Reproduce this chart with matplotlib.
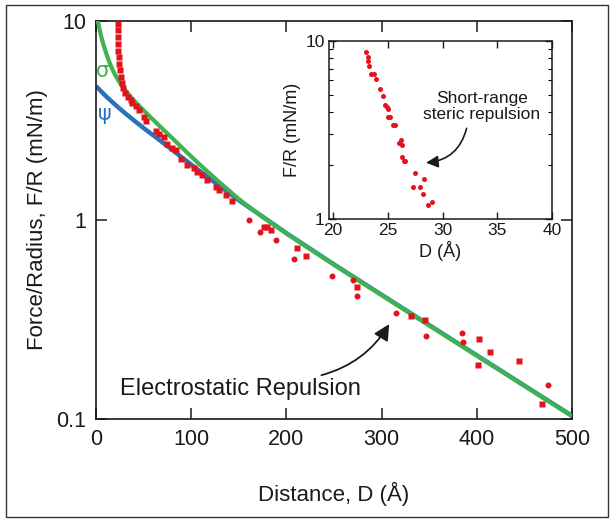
import matplotlib
matplotlib.use("Agg")
import matplotlib.pyplot as plt
from matplotlib.patches import Rectangle
from matplotlib.ticker import FixedLocator, FixedFormatter, NullLocator, NullFormatter, LogLocator

plt.rcParams['font.family'] = ['Liberation Sans', 'DejaVu Sans']

# ---------------- data ----------------
# constant-charge (sigma) model curve
sigma_d = [1.0, 2, 3.5, 5.3, 8, 10.5, 13, 15.7, 19, 22.8, 27, 31.5, 36, 42, 52.5, 66, 80,
           95, 110, 130, 150, 175, 200, 250, 300, 350, 400, 450, 500]
sigma_f = [10.52, 9.954, 9.204, 8.414, 7.551, 6.934, 6.397, 5.943, 5.483, 5.093, 4.742,
           4.446, 4.178, 3.882, 3.459, 2.992, 2.582, 2.198, 1.879, 1.542, 1.274, 1.035,
           0.855, 0.596, 0.419, 0.295, 0.208, 0.1466, 0.1033]
# constant-potential (psi) model curve
psi_d = [0, 10, 20, 30, 40, 50, 63, 78, 92, 110, 130, 150, 175, 200, 250, 300, 350, 400,
         450, 500]
psi_f = [4.710, 4.207, 3.802, 3.459, 3.162, 2.897, 2.600, 2.291, 2.032, 1.746, 1.479,
         1.256, 1.040, 0.859, 0.598, 0.421, 0.2965, 0.2089, 0.1472, 0.1038]

# measured data, squares
sq_d = [22.8, 22.9, 23.1, 23.2, 23.5, 23.8, 24.1, 24.9, 25.9, 27.0, 28.3, 30.4, 34.0,
        36.4, 38.2, 41.7, 45.1, 50.4, 52.9, 62.6, 66.1, 71.4, 74.9, 80.2, 83.6, 88.9,
        95.9, 102.8, 106.4, 111.6, 116.9, 125.6, 129.1, 136.1, 143.1, 176.3, 180.0,
        183.3, 211.3, 221.1, 274.3, 331.3, 345.3, 402.0, 413.5, 401.3, 444.6, 468.7]
sq_f = [9.7, 9.0, 8.3, 7.7, 7.1, 6.6, 6.1, 5.67, 5.25, 4.86, 4.59, 4.33, 4.17,
        4.01, 3.86, 3.75, 3.57, 3.30, 3.14, 2.80, 2.72, 2.62, 2.42, 2.29, 2.25, 2.02,
        1.88, 1.82, 1.75, 1.68, 1.59, 1.46, 1.42, 1.34, 1.24, 0.92, 0.92,
        0.89, 0.72, 0.66, 0.459, 0.33, 0.315, 0.252, 0.217, 0.187, 0.196, 0.119]
# measured data, circles
ci_d = [160.5, 172.1, 188.6, 207.8, 248.0, 269.7, 274.3, 315.2, 347.0, 384.5, 385.5, 474.7]
ci_f = [1.00, 0.87, 0.79, 0.64, 0.525, 0.50, 0.415, 0.34, 0.261, 0.27, 0.243, 0.148]

# inset: short-range data
in_d = [23.0, 23.17, 23.23, 23.29, 23.47, 23.7, 23.9, 24.3, 24.6, 24.78, 24.9, 25.05,
        25.0, 25.2, 25.5, 25.7, 26.0, 26.2, 26.3, 26.3, 26.5, 26.6, 27.46, 28.3, 27.3,
        27.9, 28.2, 28.7, 29.0]
in_f = [8.64, 8.17, 7.75, 7.24, 6.53, 6.53, 6.12, 5.35, 4.89, 4.35, 4.24, 4.13,
        3.76, 3.76, 3.36, 3.36, 2.68, 2.78, 2.61, 2.22, 2.13, 2.13, 1.82, 1.67, 1.51,
        1.51, 1.38, 1.20, 1.24]

main_xticks = [0, 100, 200, 300, 400, 500]
main_yticks = [0.1, 1, 10]
main_ylabels = ['0.1', '1', '10']
inset_xticks = [20, 25, 30, 35, 40]
inset_yticks = [1, 10]
inset_ylabels = ['1', '10']

GREEN = '#3fb34f'
BLUE = '#2a72bd'
RED = '#e3131b'
INK = '#1a1a1a'

# ---------------- figure ----------------
fig = plt.figure(figsize=(6.14, 5.24), dpi=100)
W, H = 614.0, 524.0

ax = fig.add_axes([96 / W, 1 - 419 / H, (572 - 96) / W, (419 - 21) / H])
ax.set_yscale('log')
ax.plot(psi_d, psi_f, color=BLUE, lw=3.2, zorder=2, solid_capstyle='butt')
ax.plot(sigma_d, sigma_f, color=GREEN, lw=3.0, zorder=3, solid_capstyle='butt')
ax.plot(sq_d, sq_f, 's', ms=4.3, color=RED, mec='none', zorder=4)
ax.plot(ci_d, ci_f, 'o', ms=4.3, color=RED, mec='none', zorder=4)

ax.set_xlim(0, 500)
ax.set_ylim(0.1, 10)
ax.xaxis.set_major_locator(FixedLocator(main_xticks))
ax.yaxis.set_major_locator(FixedLocator(main_yticks))
ax.yaxis.set_major_formatter(FixedFormatter(main_ylabels))
ax.yaxis.set_minor_locator(NullLocator())
ax.tick_params(which='major', direction='in', length=8, width=1.1, top=True, right=True,
               labelsize=15.5, colors=INK, pad=7)
for s in ax.spines.values():
    s.set_linewidth(1.2)
    s.set_color(INK)
ax.set_xlabel('Distance, D (Å)', fontsize=16, color=INK, labelpad=23)
ax.set_ylabel('Force/Radius, F/R (mN/m)', fontsize=16, color=INK, labelpad=6)

ax.text(7, 5.6, 'σ', color=GREEN, fontsize=15, ha='center', va='center',
        family=['DejaVu Sans'])
ax.text(8.8, 3.41, 'ψ', color=BLUE, fontsize=15, ha='center', va='center',
        family=['DejaVu Sans'])

ax.text(152, 0.1415, 'Electrostatic Repulsion', fontsize=17, color=INK,
        ha='center', va='center')
ax.annotate('', xy=(308, 0.30), xytext=(236.8, 0.166),
            arrowprops=dict(arrowstyle='-|>', color=INK, lw=1.3, mutation_scale=24,
                            connectionstyle='arc3,rad=0.2', shrinkA=0, shrinkB=0))

# ---------------- inset ----------------
ins = fig.add_axes([329 / W, 1 - 219 / H, (552 - 329) / W, (219 - 41) / H])
ins.set_yscale('log')
ins.plot(in_d, in_f, 'o', ms=3.6, color=RED, mec='none')
ins.set_xlim(19.63, 40)
ins.set_ylim(1, 10)
ins.xaxis.set_major_locator(FixedLocator(inset_xticks))
ins.yaxis.set_major_locator(FixedLocator(inset_yticks))
ins.yaxis.set_major_formatter(FixedFormatter(inset_ylabels))
ins.yaxis.set_minor_locator(LogLocator(base=10, subs=range(2, 10)))
ins.yaxis.set_minor_formatter(NullFormatter())
ins.tick_params(which='major', direction='in', length=5, width=1, top=True, right=True,
                labelsize=12.5, colors=INK, pad=3)
ins.tick_params(which='minor', direction='in', length=3, width=0.8, left=True, right=True)
for s in ins.spines.values():
    s.set_linewidth(1.1)
    s.set_color(INK)
ins.set_xlabel('D (Å)', fontsize=13, color=INK, labelpad=2)
ins.set_ylabel('F/R (mN/m)', fontsize=13, color=INK, labelpad=3)
ins.text(33.6, 4.29, 'Short-range\nsteric repulsion', fontsize=12.5, color=INK,
         ha='center', va='center', linespacing=1.15)
ins.annotate('', xy=(28.5, 2.07), xytext=(32.2, 3.23),
             arrowprops=dict(arrowstyle='-|>', color=INK, lw=1.2, mutation_scale=18,
                             connectionstyle='arc3,rad=-0.35', shrinkA=0, shrinkB=0))

# outer frame
fig.patches.append(Rectangle((6 / W, 1 - 517 / H), (608 - 6) / W, (517 - 5) / H,
                             transform=fig.transFigure, fill=False, ec='#333333', lw=1.0))

fig.savefig('out.png', dpi=100)
